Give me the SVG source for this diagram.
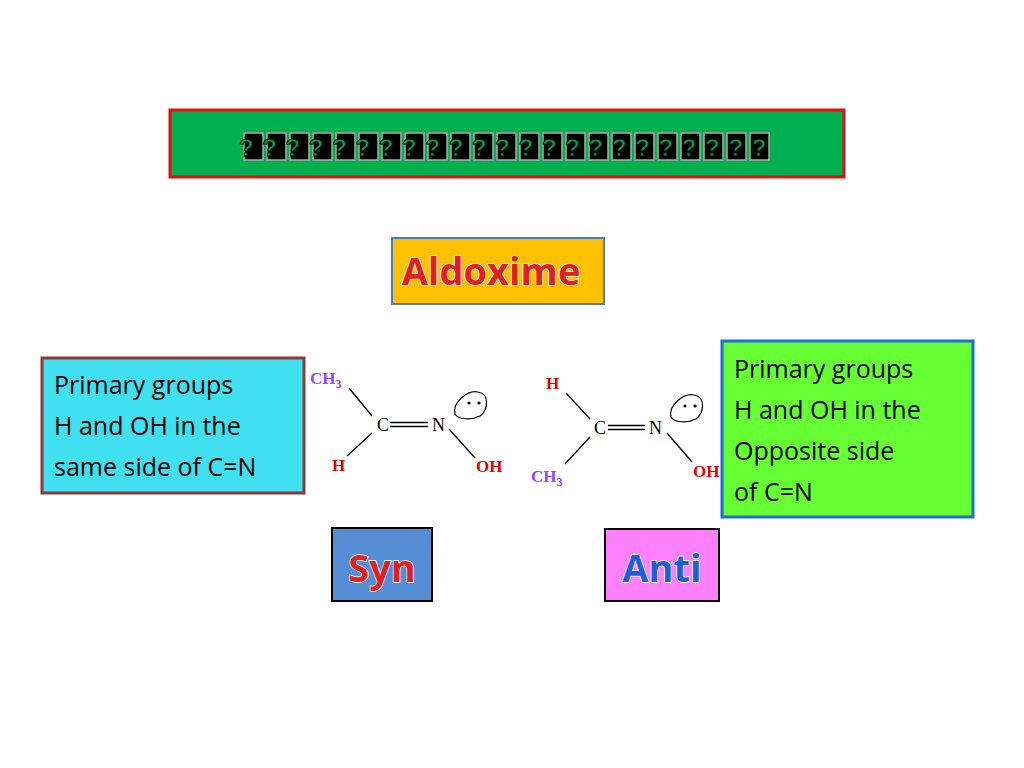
<svg xmlns="http://www.w3.org/2000/svg" width="1024" height="768" viewBox="0 0 1024 768">
<style>
.b{font-family:"Liberation Serif",serif;font-weight:bold;font-size:17px}
.n{font-family:"Liberation Serif",serif;font-size:18px;fill:#000}
.cal{font-family:"Open Sans","Liberation Sans",sans-serif;font-size:25px;fill:#000}
.big{font-family:"Open Sans","Liberation Sans",sans-serif;font-weight:bold;font-size:38px;stroke:#fff;stroke-width:1.5;paint-order:stroke}
line{stroke:#000;stroke-width:1.3}
.q{fill:#000;stroke:#aaa;stroke-width:1.5}
</style>
<rect width="1024" height="768" fill="#fff"/>
<g id="title">
<rect x="170" y="110" width="674" height="67" fill="#00b050" stroke="#e01010" stroke-width="3"/>
<g id="tofu">
<rect class="q" x="244" y="133" width="19" height="27"/><rect class="q" x="267" y="133" width="19" height="27"/><rect class="q" x="290" y="133" width="19" height="27"/><rect class="q" x="313" y="133" width="19" height="27"/><rect class="q" x="336" y="133" width="19" height="27"/><rect class="q" x="359" y="133" width="19" height="27"/><rect class="q" x="382" y="133" width="19" height="27"/><rect class="q" x="405" y="133" width="19" height="27"/><rect class="q" x="428" y="133" width="19" height="27"/><rect class="q" x="451" y="133" width="19" height="27"/><rect class="q" x="474" y="133" width="19" height="27"/><rect class="q" x="497" y="133" width="19" height="27"/><rect class="q" x="520" y="133" width="19" height="27"/><rect class="q" x="543" y="133" width="19" height="27"/><rect class="q" x="566" y="133" width="19" height="27"/><rect class="q" x="589" y="133" width="19" height="27"/><rect class="q" x="612" y="133" width="19" height="27"/><rect class="q" x="635" y="133" width="19" height="27"/><rect class="q" x="658" y="133" width="19" height="27"/><rect class="q" x="681" y="133" width="19" height="27"/><rect class="q" x="704" y="133" width="19" height="27"/><rect class="q" x="727" y="133" width="19" height="27"/><rect class="q" x="750" y="133" width="19" height="27"/>
</g>
<text x="507" y="156" text-anchor="middle" font-family="Liberation Sans,sans-serif" font-weight="bold" font-size="24" fill="#00a050" stroke="#000" stroke-width="0.8" letter-spacing="8.65">???????????????????????</text>
</g>
<g id="aldoxime">
<rect x="392" y="238" width="212" height="66" fill="#ffc000" stroke="#4a7ebb" stroke-width="2"/>
<text class="big" x="491" y="285" text-anchor="middle" fill="#e02020" font-size="36">Aldoxime</text>
</g>
<g id="synbox">
<rect x="42" y="358" width="262" height="135" fill="#40e0f0" stroke="#8b3a3a" stroke-width="3"/>
<text class="cal" x="54" y="394">Primary groups</text>
<text class="cal" x="54" y="435">H and OH in the</text>
<text class="cal" x="54" y="476">same side of C=N</text>
</g>
<g id="antibox">
<rect x="722" y="341" width="251" height="176" fill="#66ff33" stroke="#1f6fd6" stroke-width="3"/>
<text class="cal" x="734" y="378">Primary groups</text>
<text class="cal" x="734" y="419">H and OH in the</text>
<text class="cal" x="734" y="460">Opposite side</text>
<text class="cal" x="734" y="501">of C=N</text>
</g>
<g id="syn-mol">
<text class="b" x="310" y="384" fill="#a040ff">CH<tspan font-size="12" dy="4">3</tspan></text>
<line x1="349" y1="388" x2="372" y2="416"/>
<line x1="347" y1="456" x2="372" y2="433"/>
<text class="b" x="332" y="471" fill="#e00000">H</text>
<text class="n" x="377" y="431">C</text>
<line x1="390" y1="422.5" x2="428" y2="422.5"/>
<line x1="390" y1="426.5" x2="428" y2="426.5"/>
<text class="n" x="432" y="431">N</text>
<line x1="449" y1="429" x2="475" y2="458"/>
<text class="b" x="476" y="472" fill="#e00000">OH</text>
<path d="M455 414 C452 402 468 390 478 392 C490 394 488 410 480 416 C472 420 458 420 455 414Z" fill="none" stroke="#000" stroke-width="1.2"/>
<circle cx="469" cy="403" r="1.6"/><circle cx="479" cy="403" r="1.6"/>
</g>
<g id="anti-mol">
<text class="b" x="546" y="389" fill="#e00000">H</text>
<line x1="566" y1="393" x2="590" y2="419"/>
<line x1="565" y1="464" x2="590" y2="437"/>
<text class="b" x="531" y="482" fill="#a040ff">CH<tspan font-size="12" dy="4">3</tspan></text>
<text class="n" x="594" y="434">C</text>
<line x1="608" y1="425.5" x2="645" y2="425.5"/>
<line x1="608" y1="429.5" x2="645" y2="429.5"/>
<text class="n" x="649" y="434">N</text>
<line x1="667" y1="433" x2="692" y2="462"/>
<text class="b" x="693" y="477" fill="#e00000">OH</text>
<path d="M671 417 C668 405 684 393 694 395 C706 397 704 413 696 419 C688 423 674 423 671 417Z" fill="none" stroke="#000" stroke-width="1.2"/>
<circle cx="685" cy="406" r="1.6"/><circle cx="695" cy="406" r="1.6"/>
</g>
<rect x="722" y="341" width="251" height="176" fill="#66ff33" stroke="#1f6fd6" stroke-width="3" opacity="0"/>
<g id="syn">
<rect x="332" y="528" width="100" height="73" fill="#558ed5" stroke="#000" stroke-width="2"/>
<text class="big" x="382" y="582" text-anchor="middle" fill="#e02020" font-size="40">Syn</text>
</g>
<g id="anti">
<rect x="605" y="529" width="114" height="72" fill="#ff80ff" stroke="#000" stroke-width="2"/>
<text class="big" x="662" y="582" text-anchor="middle" fill="#1f5fd6" font-size="40">Anti</text>
</g>
<g id="connectors"/>
</svg>
